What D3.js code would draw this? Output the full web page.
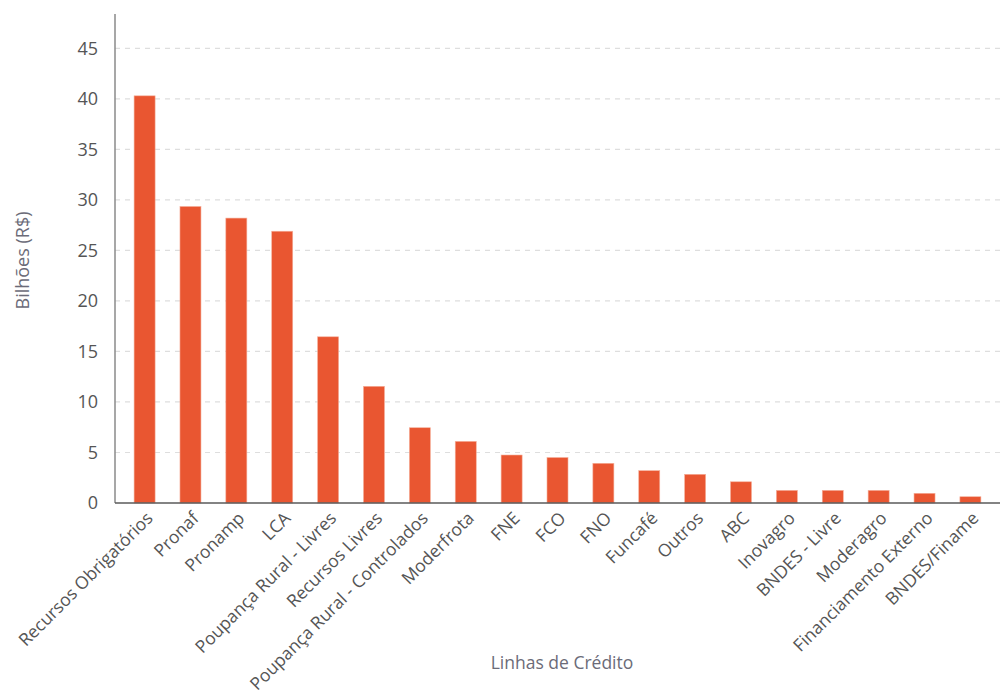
<!DOCTYPE html>
<html>
<head>
<meta charset="utf-8">
<script src="https://cdn.jsdelivr.net/npm/d3@7"></script>
<style>
  html, body { margin: 0; padding: 0; background: #fff; }
  svg { display: block; font-family: "Open Sans", sans-serif; }
</style>
</head>
<body>
<svg id="chart" width="1000" height="698"></svg>
<script>
const categories = [
  "Recursos Obrigatórios", "Pronaf", "Pronamp", "LCA", "Poupança Rural - Livres",
  "Recursos Livres", "Poupança Rural - Controlados", "Moderfrota", "FNE", "FCO",
  "FNO", "Funcafé", "Outros", "ABC", "Inovagro", "BNDES - Livre", "Moderagro",
  "Financiamento Externo", "BNDES/Finame"
];
const values = [
  40.3, 29.35, 28.2, 26.9, 16.45,
  11.55, 7.45, 6.1, 4.75, 4.5,
  3.93, 3.2, 2.84, 2.1, 1.25, 1.25, 1.25,
  0.96, 0.62
];
const yTicks = [0, 5, 10, 15, 20, 25, 30, 35, 40, 45];
const yTitle = "Bilhões (R$)";
const xTitle = "Linhas de Crédito";

const svg = d3.select("#chart");
const mLeft = 115, mRight = 1000, mTop = 14, mBottom = 503;

const x = d3.scaleBand().domain(categories).range([mLeft, mRight])
  .paddingInner(0.542).paddingOuter(0.416);
const y = d3.scaleLinear().domain([0, 48.4]).range([mBottom, mTop]);

// gridlines
svg.append("g").selectAll("line").data(yTicks.filter(d => d > 0)).join("line")
  .attr("x1", mLeft).attr("x2", mRight)
  .attr("y1", d => y(d)).attr("y2", d => y(d))
  .attr("stroke", "#dedede").attr("stroke-width", 1.2)
  .attr("stroke-dasharray", "5,5");

// bars
svg.append("g").selectAll("rect").data(categories).join("rect")
  .attr("x", d => x(d)).attr("width", x.bandwidth())
  .attr("y", (d, i) => y(values[i]))
  .attr("height", (d, i) => mBottom - y(values[i]))
  .attr("fill", "#e95631")
  .attr("stroke", "#f5b09b").attr("stroke-width", 0.6);

// y axis
const yAxis = svg.append("g").attr("transform", `translate(${mLeft},0)`)
  .call(d3.axisLeft(y).tickValues(yTicks).tickSize(0).tickPadding(17));
yAxis.select(".domain").remove();
yAxis.selectAll("text").attr("font-size", 18).attr("fill", "#555")
  .attr("font-family", "Open Sans, sans-serif");
svg.append("line").attr("x1", mLeft).attr("x2", mLeft).attr("y1", mTop).attr("y2", mBottom)
  .attr("stroke", "#8a8a8a").attr("stroke-width", 1.5);

// x axis
const xAxis = svg.append("g").attr("transform", `translate(0,${mBottom})`)
  .call(d3.axisBottom(x).tickSize(0).tickPadding(0));
xAxis.select(".domain").remove();
xAxis.selectAll("text")
  .attr("font-size", 17.5).attr("fill", "#555")
  .attr("font-family", "Open Sans, sans-serif")
  .attr("text-anchor", "end")
  .attr("dy", "0.35em")
  .attr("transform", "translate(5,12) rotate(-45)");
svg.append("line").attr("x1", mLeft).attr("x2", mRight).attr("y1", mBottom).attr("y2", mBottom)
  .attr("stroke", "#5a5a5a").attr("stroke-width", 1.5);

// titles
svg.append("text").attr("transform", `translate(29,${(mTop + mBottom) / 2 + 2}) rotate(-90)`)
  .attr("text-anchor", "middle").attr("font-size", 18).attr("fill", "#6b6b78")
  .text(yTitle);
svg.append("text").attr("x", 562).attr("y", 669)
  .attr("text-anchor", "middle").attr("font-size", 17.5).attr("fill", "#6b6b78")
  .text(xTitle);
</script>
</body>
</html>
